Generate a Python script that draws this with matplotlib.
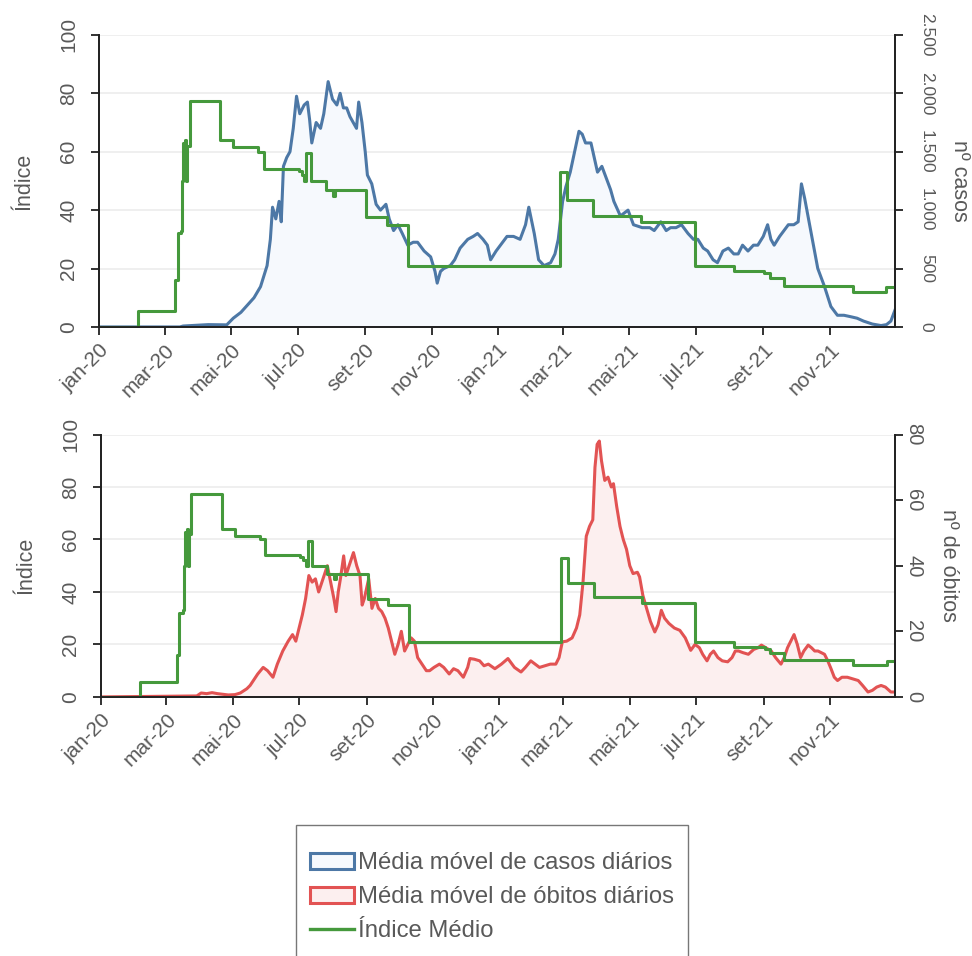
import numpy as np
import pandas as pd
import matplotlib
matplotlib.use('Agg')
import matplotlib.pyplot as plt
from matplotlib.patches import Patch
from matplotlib.lines import Line2D
from matplotlib.ticker import FuncFormatter

plt.rcParams['font.family'] = ['Liberation Sans', 'DejaVu Sans']

INICIO = pd.Timestamp('2020-01-01')

# média móvel de casos diários (dia desde 01/01/2020, nº de casos)
casos_dia = [0, 74, 77, 100, 117, 123, 130, 136, 142, 148, 154, 157, 159, 162, 165, 167, 169, 172, 175, 178,
             181, 184, 188, 191, 193, 195, 199, 203, 206, 210, 214, 218, 221, 224, 227, 230, 233, 236, 238, 241,
             244, 246, 250, 254, 258, 263, 266, 270, 274, 278, 283, 288, 292, 298, 304, 308, 310, 313, 316, 322,
             326, 331, 338, 343, 347, 352, 356, 359, 364, 368, 374, 380, 386, 391, 394, 399, 403, 408, 414, 418,
             421, 425, 428, 432, 436, 440, 443, 446, 451, 454, 457, 461, 465, 469, 472, 478, 485, 490, 498, 505,
             509, 515, 520, 524, 529, 534, 540, 545, 549, 554, 558, 563, 567, 572, 577, 582, 586, 590, 595, 600,
             604, 609, 613, 616, 619, 624, 628, 632, 637, 641, 644, 647, 650, 653, 656, 659, 665, 671, 677, 683,
             689, 695, 701, 709, 717, 722, 726, 730]
casos = [0, 0, 8, 20, 18, 75, 125, 188, 250, 345, 525, 750, 1025, 925, 1075, 900, 1375, 1450, 1500, 1700,
         1975, 1825, 1900, 1925, 1775, 1575, 1750, 1700, 1825, 2100, 1950, 1900, 2000, 1875, 1875, 1800, 1750, 1700, 1925, 1750,
         1500, 1300, 1225, 1050, 1000, 1050, 925, 825, 875, 800, 700, 725, 725, 650, 600, 475, 375, 475, 500, 525,
         575, 675, 750, 775, 800, 750, 700, 575, 650, 700, 775, 775, 750, 875, 1025, 800, 575, 525, 550, 625,
         750, 1075, 1200, 1325, 1500, 1675, 1650, 1575, 1575, 1450, 1325, 1375, 1275, 1175, 1075, 950, 1000, 875, 850, 850,
         825, 900, 825, 850, 850, 875, 800, 750, 750, 675, 650, 575, 550, 650, 675, 625, 625, 700, 650, 700,
         700, 775, 875, 750, 700, 775, 825, 875, 875, 900, 1225, 1100, 950, 800, 650, 500, 350, 175, 100, 100,
         88, 75, 50, 25, 12, 20, 50, 150]

# média móvel de óbitos diários
obitos_dia = [0, 88, 92, 97, 102, 107, 112, 117, 123, 128, 134, 137, 140, 144, 149, 153, 158, 162, 167, 172,
              176, 179, 182, 185, 188, 191, 194, 197, 200, 204, 208, 211, 214, 216, 218, 220, 223, 225, 228, 232,
              235, 238, 240, 242, 244, 246, 249, 252, 255, 258, 261, 264, 267, 270, 273, 276, 279, 282, 285, 288,
              291, 295, 299, 302, 306, 311, 315, 320, 324, 328, 333, 337, 339, 343, 348, 352, 356, 362, 368, 374,
              380, 386, 390, 395, 399, 403, 408, 413, 418, 421, 424, 428, 433, 437, 440, 443, 446, 449, 452, 454,
              456, 458, 460, 463, 466, 469, 471, 474, 477, 480, 483, 486, 489, 493, 495, 498, 501, 505, 509, 512,
              515, 518, 522, 527, 532, 537, 542, 546, 550, 553, 557, 560, 563, 567, 571, 576, 580, 583, 586, 590,
              595, 600, 604, 607, 611, 616, 620, 625, 628, 631, 634, 637, 640, 643, 646, 650, 653, 656, 659, 662,
              665, 668, 671, 674, 677, 681, 686, 691, 696, 700, 705, 709, 713, 717, 721, 726, 730]
obitos = [0, 0.3, 1.2, 1, 1.3, 1, 0.8, 0.6, 0.7, 1.2, 2.5, 3.5, 5, 7, 9, 8, 6, 10, 14, 17,
          19, 17, 21, 25, 30, 37, 35, 36, 32, 36, 40, 35, 30, 26, 32, 36, 43, 37, 40, 44,
          40, 37, 28, 30, 33, 36, 27, 30, 27, 26, 24, 21, 17, 13, 16, 20, 14, 16, 18, 17,
          12, 10, 8, 8, 9, 10, 9, 7, 8.6, 8, 6, 9, 11.7, 11.5, 11, 9.5, 10, 8.6, 10, 11.7,
          9, 7.6, 9, 11, 10, 9, 9.5, 10, 10, 12, 16.8, 17, 18, 21, 25, 35, 49, 52, 54, 70,
          77, 78, 72, 66, 67, 64, 65, 58, 52, 48, 45, 40, 37.6, 38, 36.6, 31, 27.5, 23, 19.8, 22,
          26.4, 24, 22.4, 21, 20.3, 18, 14.2, 16, 15, 13, 11, 13, 14, 12, 11, 10.7, 12, 14, 14, 13.5,
          13, 14.5, 15, 15.8, 15, 14, 12, 10, 12, 15, 17, 19, 16, 12, 14, 15.8, 15, 14, 14, 13.5,
          13, 11, 8.6, 6, 5, 6, 6, 5.5, 5, 3.5, 1.5, 2, 3, 3.5, 3, 1.5, 1.5]

# índice médio (degraus)
indice_dia = [0, 36, 70, 72, 75, 76, 77, 78, 79, 80, 81, 83, 111, 123, 146, 151, 183, 186, 188, 190,
              194, 208, 214, 216, 245, 264, 283, 423, 429, 453, 497, 546, 582, 610, 615, 628, 691, 722, 731]
indice = [0, 5.5, 16, 32, 33, 50, 63, 51, 64, 50, 62, 77.5, 64, 61.5, 60, 54, 53.5, 52, 50, 59.5,
          50, 47, 45, 47, 37.5, 35, 21, 53, 43.5, 38, 35.8, 21, 19.2, 18.4, 16.8, 14, 12, 13.6, 13.6]

meses_tick = ['2020-01-01', '2020-03-01', '2020-05-01', '2020-07-01', '2020-09-01', '2020-11-01',
              '2021-01-01', '2021-03-01', '2021-05-01', '2021-07-01', '2021-09-01', '2021-11-01']
meses_label = ['jan-20', 'mar-20', 'mai-20', 'jul-20', 'set-20', 'nov-20',
               'jan-21', 'mar-21', 'mai-21', 'jul-21', 'set-21', 'nov-21']

AZUL = '#4d78a6'
VERMELHO = '#e25353'
VERDE = '#45993c'
CINZA = '#595959'

def datas(dias):
    return INICIO + pd.to_timedelta(dias, unit='D')

fig = plt.figure(figsize=(9.72, 9.56), dpi=100)
ax1 = fig.add_axes([0.102, 0.658, 0.819, 0.3055])
ax2 = fig.add_axes([0.104, 0.271, 0.817, 0.2745])

def painel(ax, dias, valores, cor, fundo, ymax2, passo2, label2, fmt, size2, pad2):
    axr = ax.twinx()
    ax.set_zorder(axr.get_zorder() + 1)
    ax.patch.set_visible(False)
    x = datas(dias)
    axr.fill_between(x, valores, 0, color=fundo, lw=0)
    axr.plot(x, valores, color=cor, lw=2.2)
    axr.set_ylim(0, ymax2)
    axr.set_yticks(np.arange(0, ymax2 + 1, passo2))
    # linhas de grade nos múltiplos de 20 do índice
    axr.yaxis.remove_overlapping_locs = False
    axr.set_yticks(np.linspace(0, ymax2, 6), minor=True)
    axr.tick_params(axis='y', which='minor', length=0)
    axr.yaxis.set_major_formatter(FuncFormatter(fmt))
    axr.grid(axis='y', which='minor', color='#ececec', lw=1.2)
    axr.set_axisbelow(True)
    ax.step(datas(indice_dia), indice, where='post', color=VERDE, lw=2.2)
    ax.set_ylim(0, 100)
    ax.set_yticks(range(0, 101, 20))
    ax.set_xlim(INICIO, pd.Timestamp('2021-12-31'))
    ax.set_xticks(pd.to_datetime(meses_tick))
    ax.set_xticklabels(meses_label, rotation=45, ha='right', rotation_mode='anchor')
    for a in (ax, axr):
        a.spines['top'].set_visible(False)
        for s in ('left', 'right', 'bottom'):
            a.spines[s].set_color('#222222')
            a.spines[s].set_linewidth(1.3)
        a.tick_params(which='major', colors='#222222', labelcolor=CINZA, labelsize=15, length=6, width=1.3)
    ax.tick_params(axis='y', labelrotation=90, pad=9)
    axr.tick_params(axis='y', labelrotation=-90, pad=pad2, labelsize=size2)
    for t in ax.get_yticklabels() + axr.get_yticklabels():
        t.set_va('center')
    ax.set_ylabel('Índice', color=CINZA, fontsize=15.5, labelpad=18)
    axr.set_ylabel(label2, color=CINZA, fontsize=15.5, rotation=-90, labelpad=26)
    return axr

milhar = lambda v, p: f'{int(v):,}'.replace(',', '.')
painel(ax1, casos_dia, casos, AZUL, '#f6f9fd', 2500, 500, 'nº casos', milhar, 12.5, 11)
painel(ax2, obitos_dia, obitos, VERMELHO, '#fcefef', 80, 20, 'nº de óbitos', lambda v, p: f'{int(v)}', 14.5, 0.5)

handles = [Patch(facecolor='#f6f9fd', edgecolor=AZUL, lw=2.2),
           Patch(facecolor='#fcefef', edgecolor=VERMELHO, lw=2.2),
           Line2D([], [], color=VERDE, lw=2.4)]
labels = ['Média móvel de casos diários', 'Média móvel de óbitos diários', 'Índice Médio']
leg = fig.legend(handles, labels, loc='upper center', bbox_to_anchor=(0.506, 0.137),
                 fontsize=17.2, frameon=True, fancybox=False, edgecolor='#555555',
                 handlelength=1.85, handleheight=0.7, handletextpad=0.15, borderpad=0.6,
                 labelspacing=0.5, borderaxespad=0, title=' ', title_fontsize=0.5)
leg.get_frame().set_linewidth(1.0)
for t in leg.get_texts():
    t.set_color(CINZA)

fig.savefig('out.png', dpi=100)
